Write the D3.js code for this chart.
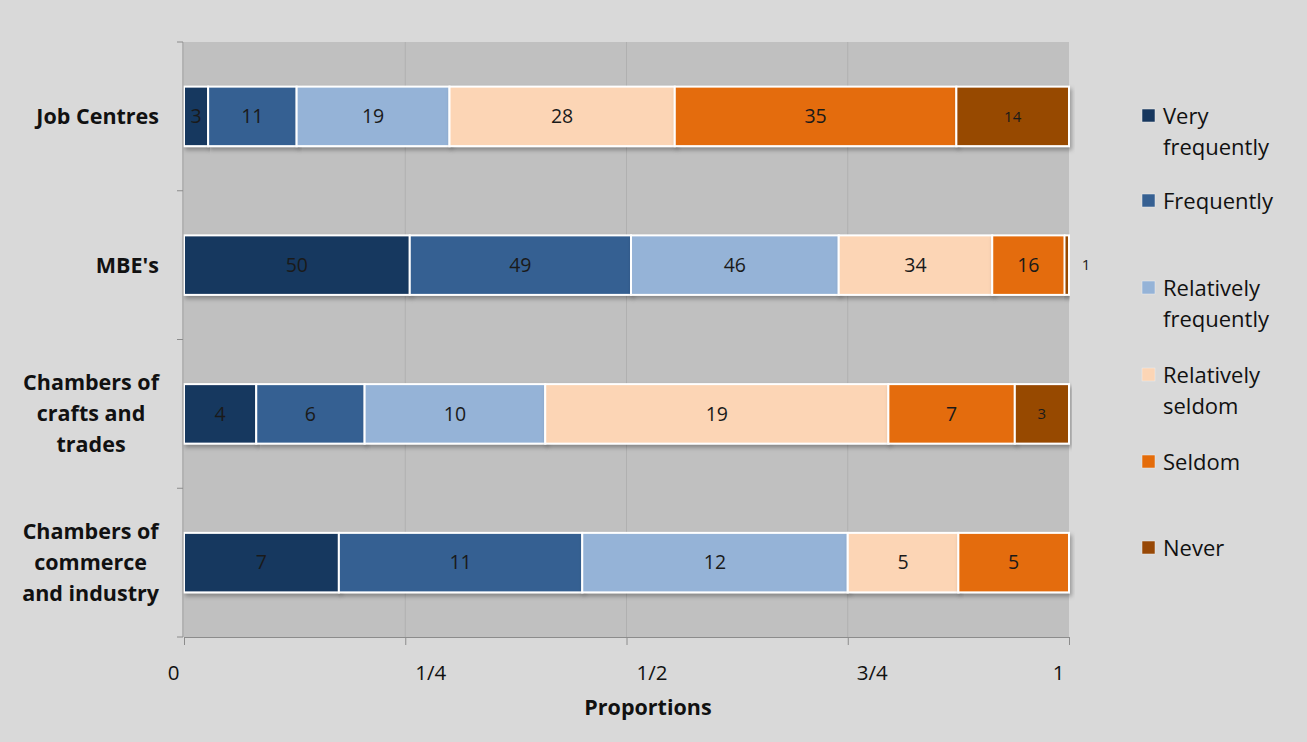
<!DOCTYPE html>
<html><head><meta charset="utf-8">
<script src="https://cdn.jsdelivr.net/npm/d3@7"></script>
<style>body{margin:0;background:#d9d9d9;font-family:"Open Sans",sans-serif}</style>
</head><body>
<svg id="c" width="1307" height="742"></svg>
<script>
const categories = ["Job Centres","MBE's","Chambers of crafts and trades","Chambers of commerce and industry"];
const categoryLines = [["Job Centres"],["MBE's"],["Chambers of","crafts and","trades"],["Chambers of","commerce","and industry"]];
const seriesNames = ["Very frequently","Frequently","Relatively frequently","Relatively seldom","Seldom","Never"];
const legendLines = [["Very","frequently"],["Frequently"],["Relatively","frequently"],["Relatively","seldom"],["Seldom"],["Never"]];
const colors = ["#17375e","#366092","#95b3d7","#fcd5b5","#e46c0a","#974806"];
const veryFrequently = [3,50,4,7];
const frequently = [11,49,6,11];
const relativelyFrequently = [19,46,10,12];
const relativelySeldom = [28,34,19,5];
const seldom = [35,16,7,5];
const never = [14,1,3,0];
const tickValues = [0,0.25,0.5,0.75,1];
const tickLabels = ["0","1/4","1/2","3/4","1"];

const series = [veryFrequently,frequently,relativelyFrequently,relativelySeldom,seldom,never];
const svg = d3.select("#c");
svg.append("rect").attr("width",1307).attr("height",742).attr("fill","#d9d9d9");
const defs = svg.append("defs");
const f = defs.append("filter").attr("id","sh").attr("x","-5%").attr("y","-20%").attr("width","110%").attr("height","160%");
f.append("feDropShadow").attr("dx",2).attr("dy",3).attr("stdDeviation",2).attr("flood-color","#000").attr("flood-opacity",0.3);

const L=184,R=1069,T=42,B=637;
const x = d3.scaleLinear().domain([0,1]).range([L,R]);
const y = d3.scaleBand().domain(categories).range([T,B]).paddingInner(0.6).paddingOuter(0.3);
const yb = d3.scaleBand().domain(categories).range([T,B]);

svg.append("rect").attr("x",L).attr("y",T).attr("width",R-L).attr("height",B-T).attr("fill","#c0c0c0");
svg.append("g").selectAll("line").data(tickValues.slice(1,4)).join("line")
  .attr("x1",d=>x(d)).attr("x2",d=>x(d)).attr("y1",T).attr("y2",B)
  .attr("stroke","#b0b0b0").attr("stroke-width",1);

const totals = categories.map((c,i)=>series.reduce((s,a)=>s+a[i],0));
const g = svg.append("g");
categories.forEach((c,i)=>{
  let acc=0;
  series.forEach((arr,k)=>{
    const v=arr[i]; if(!v) {return;}
    const x0=x(acc/totals[i]), x1=x((acc+v)/totals[i]);
    acc+=v;
    g.append("rect").attr("x",x0).attr("y",y(c)).attr("width",x1-x0).attr("height",y.bandwidth())
      .attr("fill",colors[k]).attr("stroke","#fff").attr("stroke-width",2).attr("filter","url(#sh)");
  });
});
categories.forEach((c,i)=>{
  let acc=0;
  series.forEach((arr,k)=>{
    const v=arr[i]; if(!v) return;
    const x0=x(acc/totals[i]), x1=x((acc+v)/totals[i]);
    acc+=v;
    const small = k===5;
    let cx=(x0+x1)/2;
    if (x1-x0<8) cx = x1+17;
    svg.append("text").attr("x",cx).attr("y",y(c)+y.bandwidth()/2).attr("dy","0.35em")
      .attr("text-anchor","middle").attr("font-size",small?15:19.5)
      .attr("fill", "#1a1a1a").text(v);
  });
});

const ya = svg.append("g").attr("transform",`translate(${L-1},0)`);
ya.append("line").attr("x1",0).attr("x2",0).attr("y1",T).attr("y2",B).attr("stroke","#8c8c8c");
ya.selectAll("line.t").data(categories.concat(["end"])).join("line").attr("class","t")
  .attr("x1",-6).attr("x2",0)
  .attr("y1",(d,i)=>i<4?yb(d):B).attr("y2",(d,i)=>i<4?yb(d):B).attr("stroke","#8c8c8c");
categories.forEach((c,i)=>{
  const lines=categoryLines[i]; const lh=31;
  const cy=y(c)+y.bandwidth()/2;
  const t=svg.append("text").attr("font-weight","bold").attr("font-size",21.5).attr("fill","#111");
  const spans = lines.map((l,j)=>t.append("tspan").attr("y",cy+(j-(lines.length-1)/2)*lh).attr("dy","0.35em").text(l));
  if (lines.length===1) { t.attr("text-anchor","end"); spans[0].attr("x",159); }
  else {
    const maxW = d3.max(spans, s=>s.node().getComputedTextLength());
    t.attr("text-anchor","middle"); spans.forEach(s=>s.attr("x",159-maxW/2));
  }
});

const xa = svg.append("g").attr("transform",`translate(0,${B})`)
  .call(d3.axisBottom(x).tickValues(tickValues).tickFormat((d,i)=>tickLabels[i]).tickSize(8).tickPadding(20));
xa.select(".domain").attr("stroke","#8c8c8c");
xa.selectAll(".tick line").attr("stroke","#8c8c8c");
xa.selectAll(".tick text").attr("font-size",20.5).attr("fill","#111").attr("font-family","Open Sans")
  .attr("dx",(d,i)=>[-11,25,25,24,-11][i]);
svg.append("text").attr("x",648).attr("y",707).attr("dy","0.35em").attr("text-anchor","middle")
  .attr("font-weight","bold").attr("font-size",21.5).attr("fill","#111").text("Proportions");

const legY=[116,201,288,375,462,548];
seriesNames.forEach((s,k)=>{
  const cy=legY[k];
  svg.append("rect").attr("x",1142).attr("y",cy-7).attr("width",13).attr("height",13).attr("fill",colors[k]).attr("stroke","#eee").attr("stroke-width",0.5);
  const t=svg.append("text").attr("font-size",22).attr("fill","#111");
  legendLines[k].forEach((l,j)=>t.append("tspan").attr("x",1163).attr("y",cy+j*31).attr("dy","0.35em").text(l));
});
</script>
</body></html>
